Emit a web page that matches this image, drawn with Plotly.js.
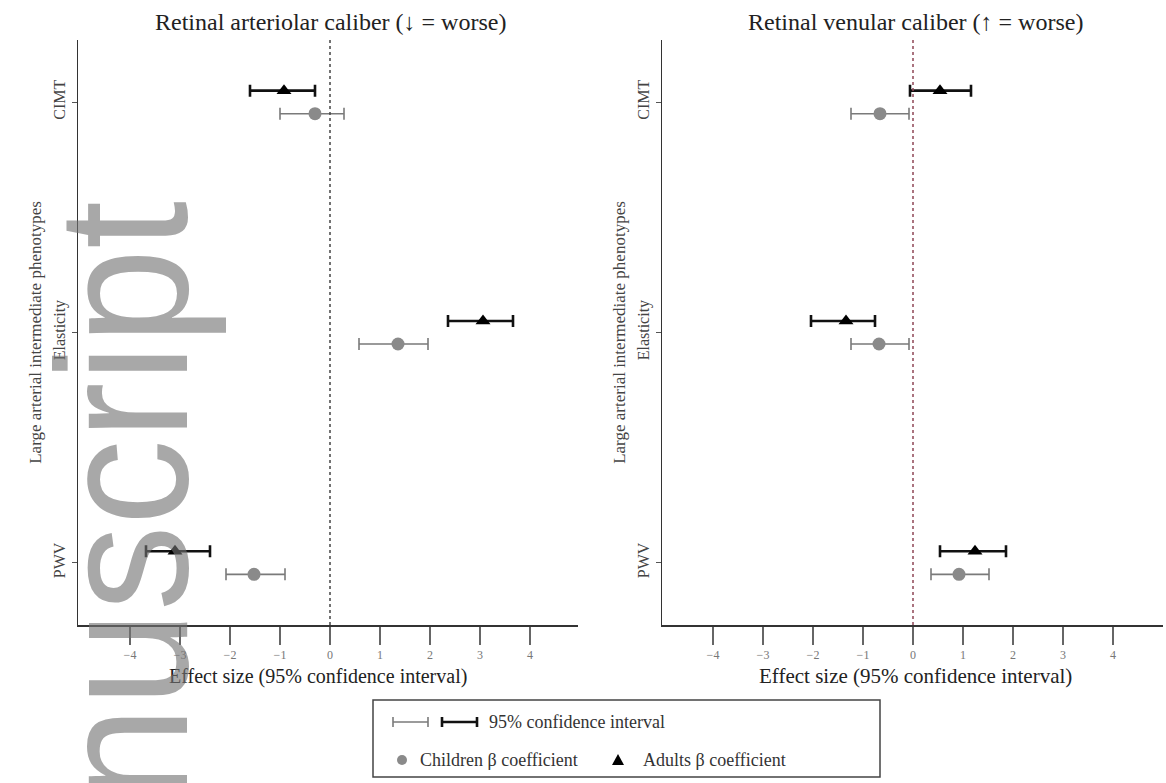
<!DOCTYPE html>
<html><head><meta charset="utf-8">
<script src="https://cdn.plot.ly/plotly-3.0.1.min.js"></script>
<style>html,body{margin:0;padding:0;background:#fff}#chart{width:1166px;height:783px}</style>
</head><body><div id="chart"></div>
<script>
// ---- data ----
const categories = ['CIMT', 'Elasticity', 'PWV'];
const catPos = [3, 2, 1];
// Retinal arteriolar caliber
const artAdultBeta = [-0.92, 3.06, -3.10];
const artAdultLo   = [-1.60, 2.36, -3.68];
const artAdultHi   = [-0.30, 3.66, -2.40];
const artChildBeta = [-0.30, 1.36, -1.52];
const artChildLo   = [-1.00, 0.58, -2.08];
const artChildHi   = [ 0.28, 1.96, -0.90];
// Retinal venular caliber
const venAdultBeta = [ 0.54, -1.34, 1.24];
const venAdultLo   = [-0.06, -2.04, 0.54];
const venAdultHi   = [ 1.16, -0.76, 1.86];
const venChildBeta = [-0.66, -0.68, 0.92];
const venChildLo   = [-1.24, -1.24, 0.36];
const venChildHi   = [-0.08, -0.08, 1.52];
const xTicks = [-4, -3, -2, -1, 0, 1, 2, 3, 4];
const panelTitles = ['Retinal arteriolar caliber (↓ = worse)', 'Retinal venular caliber (↑ = worse)'];
const xTitle = 'Effect size (95% confidence interval)';
const yTitle = 'Large arterial intermediate phenotypes';
const watermark = 'nuscript';

// ---- helpers ----
const W = 1166, H = 783;
const PX = v => v / W, PY = v => (H - v) / H;
const SERIF = 'Liberation Serif, Times New Roman, serif';
const adultOff = 0.05, childOff = -0.05;

function errTrace(beta, lo, hi, off, isAdult, xa, ya) {
  return {
    type: 'scatter', mode: 'markers', xaxis: xa, yaxis: ya, showlegend: false,
    x: beta, y: catPos.map(c => c + off),
    marker: isAdult ? {symbol: 'triangle-up', size: 13, color: '#000'}
                    : {symbol: 'circle', size: 13, color: '#8a8a8a'},
    error_x: {type: 'data', symmetric: false,
      array: hi.map((h, i) => h - beta[i]), arrayminus: lo.map((l, i) => beta[i] - l),
      color: isAdult ? '#111' : '#7a7a7a', thickness: isAdult ? 2.6 : 1.6, width: 6},
    hoverinfo: 'x'
  };
}

const data = [
  errTrace(artChildBeta, artChildLo, artChildHi, childOff, false, 'x', 'y'),
  errTrace(artAdultBeta, artAdultLo, artAdultHi, adultOff, true, 'x', 'y'),
  errTrace(venChildBeta, venChildLo, venChildHi, childOff, false, 'x2', 'y2'),
  errTrace(venAdultBeta, venAdultLo, venAdultHi, adultOff, true, 'x2', 'y2')
];

function xAxis(dom, rng, anchor) {
  return {domain: dom, range: rng, anchor: anchor, tickvals: xTicks, ticks: 'outside', ticklen: 18,
    tickcolor: '#666', tickwidth: 1.2, tickfont: {family: SERIF, size: 12, color: '#777'},
    showline: true, linecolor: '#333', linewidth: 1.5, zeroline: false, showgrid: false};
}
function yAxis(dom, anchor) {
  return {domain: dom, range: [0.73, 3.27], anchor: anchor, tickvals: catPos, ticktext: categories,
    tickangle: -90, ticks: 'outside', ticklen: 5, tickcolor: '#555',
    tickfont: {family: SERIF, size: 16, color: '#444'},
    showline: true, linecolor: '#333', linewidth: 1.5, zeroline: false, showgrid: false,
    title: {text: yTitle, font: {family: SERIF, size: 17, color: '#444'}, standoff: 5}};
}
const yDom = [PY(625), PY(40)];

const legLine = (x0, x1, y0, y1, c, w) => ({type: 'line', xref: 'paper', yref: 'paper',
  x0: PX(x0), x1: PX(x1), y0: PY(y0), y1: PY(y1), line: {color: c, width: w}});

const shapes = [
  {type: 'line', xref: 'x', yref: 'y domain', x0: 0, x1: 0, y0: 0, y1: 1,
   line: {color: '#444', width: 1.5, dash: 'dot'}},
  {type: 'line', xref: 'x2', yref: 'y2 domain', x0: 0, x1: 0, y0: 0, y1: 1,
   line: {color: '#8f4656', width: 1.5, dash: 'dot'}},
  // legend box
  {type: 'rect', xref: 'paper', yref: 'paper', x0: PX(373), x1: PX(880), y0: PY(777), y1: PY(700),
   line: {color: '#444', width: 1.5}, fillcolor: 'rgba(0,0,0,0)'},
  // legend: grey CI icon
  legLine(393, 428, 722, 722, '#7a7a7a', 1.6),
  legLine(393, 393, 717, 727, '#7a7a7a', 1.6),
  legLine(428, 428, 717, 727, '#7a7a7a', 1.6),
  // legend: black CI icon
  legLine(442, 477, 722, 722, '#111', 2.6),
  legLine(442, 442, 717, 727, '#111', 2.6),
  legLine(477, 477, 717, 727, '#111', 2.6),
  // legend: grey circle
  {type: 'circle', xref: 'paper', yref: 'paper', x0: PX(397), x1: PX(407), y0: PY(765), y1: PY(755),
   fillcolor: '#8a8a8a', line: {width: 0}},
  // legend: black triangle
  {type: 'path', xref: 'paper', yref: 'paper',
   path: 'M ' + PX(612) + ' ' + PY(765) + ' L ' + PX(624) + ' ' + PY(765) + ' L ' + PX(618) + ' ' + PY(754) + ' Z',
   fillcolor: '#000', line: {width: 0}}
];

const ann = (text, x, y, size, xanchor, color) => ({text: text, xref: 'paper', yref: 'paper',
  x: PX(x), y: PY(y), xanchor: xanchor, yanchor: 'middle', showarrow: false,
  font: {family: SERIF, size: size, color: color}});

const annotations = [
  ann(panelTitles[0], 330, 22, 24, 'center', '#222'),
  ann(panelTitles[1], 915, 22, 24, 'center', '#222'),
  ann(xTitle, 318, 676, 20, 'center', '#222'),
  ann(xTitle, 915, 676, 21, 'center', '#222'),
  ann('95% confidence interval', 487, 722, 18, 'left', '#333'),
  ann('Children β coefficient', 418, 760, 18, 'left', '#333'),
  ann('Adults β coefficient', 641, 760, 18, 'left', '#333'),
  // manuscript watermark
  {text: watermark, xref: 'paper', yref: 'paper', x: PX(123), y: PY(198), xanchor: 'center', yanchor: 'top',
   textangle: -90, showarrow: false,
   font: {family: 'Liberation Sans, Arial, sans-serif', size: 185, color: 'rgba(115,115,115,0.62)'}}
];

const layout = {
  width: W, height: H, margin: {l: 0, r: 0, t: 0, b: 0},
  paper_bgcolor: '#fff', plot_bgcolor: 'rgba(0,0,0,0)', showlegend: false,
  font: {family: SERIF},
  xaxis: xAxis([PX(78), PX(578)], [-5.04, 4.96], 'y'),
  yaxis: yAxis(yDom, 'x'),
  xaxis2: xAxis([PX(662), PX(1163)], [-5.02, 5.0], 'y2'),
  yaxis2: yAxis(yDom, 'x2'),
  shapes: shapes, annotations: annotations
};

Plotly.newPlot('chart', data, layout, {displayModeBar: false, staticPlot: true}).then(gd => {
  // slightly condense the watermark glyphs to match the reference spacing
  gd.querySelectorAll('.annotation-text').forEach(t => {
    if (t.textContent === watermark) {
      t.setAttribute('textLength', 601);
      t.setAttribute('lengthAdjust', 'spacingAndGlyphs');
      const r = t.getBoundingClientRect();
      const g = t.closest('.annotation');
      const dy = 201 - r.top;
      g.setAttribute('transform', 'translate(0,' + dy.toFixed(1) + ')');
    }
  });
});
</script></body></html>
